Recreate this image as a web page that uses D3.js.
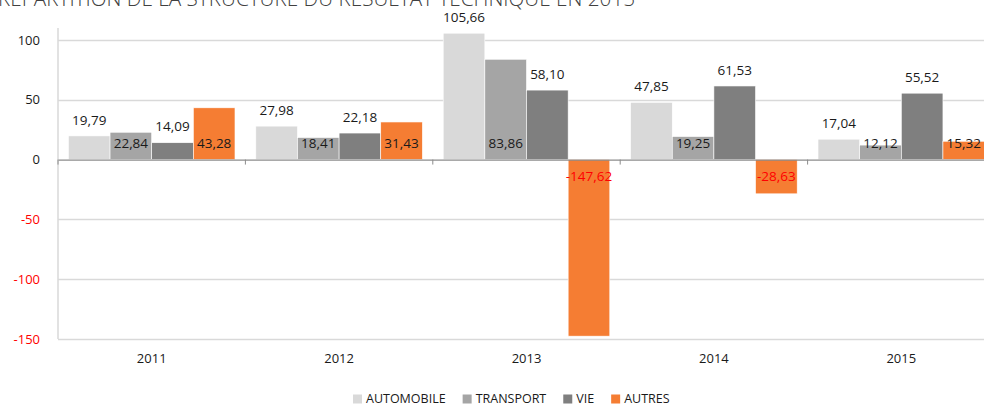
<!DOCTYPE html>
<html>
<head>
<meta charset="utf-8">
<script src="https://cdn.jsdelivr.net/npm/d3@7"></script>
<style>
  body { margin: 0; background: #fff; overflow: hidden; }
  svg { display: block; font-family: "Open Sans", sans-serif; }
</style>
</head>
<body>
<svg width="984" height="406"></svg>
<script>
// Data
const years = ["2011", "2012", "2013", "2014", "2015"];
const seriesNames = ["AUTOMOBILE", "TRANSPORT", "VIE", "AUTRES"];
const automobile = [19.79, 27.98, 105.66, 47.85, 17.04];
const transport = [22.84, 18.41, 83.86, 19.25, 12.12];
const vie = [14.09, 22.18, 58.10, 61.53, 55.52];
const autres = [43.28, 31.43, -147.62, -28.63, 15.32];
const yTicks = [-150, -100, -50, 0, 50, 100];
const seriesColors = ["#d9d9d9", "#a5a5a5", "#7f7f7f", "#f57d33"];
// where Excel put each series' data label
const labelPos = ["outsideEnd", "insideBase", "outsideEnd", "insideBase"];

const allSeries = [automobile, transport, vie, autres];

const svg = d3.select("svg");
const plot = { left: 58, right: 995, top: 28, bottom: 339 };

const x0 = d3.scaleBand().domain(years).range([plot.left, plot.right]).padding(0);
const x1 = d3.scaleBand().domain(seriesNames).range([0, x0.bandwidth()])
  .paddingInner(0).paddingOuter(0.25);
const y = d3.scaleLinear().domain([-150, 110]).range([plot.bottom, plot.top]);

const fmt = (v) => d3.format(".2f")(v).replace(".", ",").replace("−", "-");

// title (cut off at top in the reference)
svg.append("text")
  .attr("x", -2).attr("y", 6)
  .attr("font-size", 21).attr("font-weight", 300)
  .attr("fill", "#404040")
  .attr("textLength", 637).attr("lengthAdjust", "spacingAndGlyphs")
  .text("RÉPARTITION DE LA STRUCTURE DU RÉSULTAT TECHNIQUE EN 2015");

// gridlines
svg.append("g")
  .selectAll("line")
  .data(yTicks.filter((d) => d !== 0))
  .join("line")
  .attr("x1", plot.left).attr("x2", plot.right)
  .attr("y1", (d) => Math.round(y(d)) + 0.5).attr("y2", (d) => Math.round(y(d)) + 0.5)
  .attr("stroke", "#d9d9d9").attr("stroke-width", 1.3);

// left axis line
svg.append("line")
  .attr("x1", plot.left).attr("x2", plot.left)
  .attr("y1", plot.top).attr("y2", plot.bottom)
  .attr("stroke", "#d9d9d9").attr("stroke-width", 1.5);

// y tick labels
svg.append("g")
  .selectAll("text")
  .data(yTicks)
  .join("text")
  .attr("x", 40).attr("y", (d) => y(d))
  .attr("dy", "0.35em")
  .attr("text-anchor", "end")
  .attr("font-size", 13)
  .attr("fill", (d) => (d < 0 ? "#ff0000" : "#1a1a1a"))
  .text((d) => d);

// bars
const groups = svg.append("g")
  .selectAll("g")
  .data(years)
  .join("g")
  .attr("transform", (d) => `translate(${x0(d)},0)`);

groups.selectAll("rect")
  .data((yr, i) => seriesNames.map((s, k) => ({ s, k, v: allSeries[k][i] })))
  .join("rect")
  .attr("x", (d) => x1(d.s))
  .attr("width", x1.bandwidth())
  .attr("y", (d) => y(Math.max(0, d.v)))
  .attr("height", (d) => Math.abs(y(d.v) - y(0)))
  .attr("fill", (d) => seriesColors[d.k])
  .attr("stroke", "#fff").attr("stroke-width", 0.6);

// zero axis line and category ticks
const xAxis = d3.axisBottom(x0).tickSize(0).tickPadding(0).tickFormat("");
svg.append("g")
  .attr("transform", `translate(0,${y(0)})`)
  .call(xAxis)
  .call((g) => g.select(".domain").attr("stroke", "#8c8c8c").attr("stroke-width", 1.3));

svg.append("g")
  .selectAll("line")
  .data(years.concat(["end"]))
  .join("line")
  .attr("x1", (d) => (d === "end" ? plot.right : x0(d)))
  .attr("x2", (d) => (d === "end" ? plot.right : x0(d)))
  .attr("y1", y(0)).attr("y2", y(0) + 5)
  .attr("stroke", "#8c8c8c").attr("stroke-width", 1);

// year labels
svg.append("g")
  .selectAll("text")
  .data(years)
  .join("text")
  .attr("x", (d) => x0(d) + x0.bandwidth() / 2)
  .attr("y", 358).attr("dy", "0.35em")
  .attr("text-anchor", "middle")
  .attr("font-size", 13).attr("fill", "#1a1a1a")
  .text((d) => d);

// data labels
groups.selectAll("text")
  .data((yr, i) => seriesNames.map((s, k) => ({ s, k, v: allSeries[k][i] })))
  .join("text")
  .attr("x", (d) => x1(d.s) + x1.bandwidth() / 2)
  .attr("y", (d) => {
    if (labelPos[d.k] === "outsideEnd") return y(d.v) - 16;
    return d.v >= 0 ? y(0) - 16 : y(0) + 17;
  })
  .attr("dy", "0.35em")
  .attr("text-anchor", "middle")
  .attr("font-size", 13.5)
  .attr("fill", (d) => (d.v < 0 ? "#ff0000" : "#1a1a1a"))
  .text((d) => fmt(d.v));

// legend
const legend = svg.append("g").attr("transform", "translate(353,399)");
let lx = 0;
seriesNames.forEach((name, k) => {
  const item = legend.append("g").attr("transform", `translate(${lx},0)`);
  item.append("rect")
    .attr("x", 0).attr("y", -4.5).attr("width", 9).attr("height", 9)
    .attr("fill", seriesColors[k]);
  const t = item.append("text")
    .attr("x", 13).attr("dy", "0.35em")
    .attr("font-size", 12.5).attr("fill", "#1a1a1a")
    .text(name);
  lx += 13 + t.node().getComputedTextLength() + 17;
});
</script>
</body>
</html>
